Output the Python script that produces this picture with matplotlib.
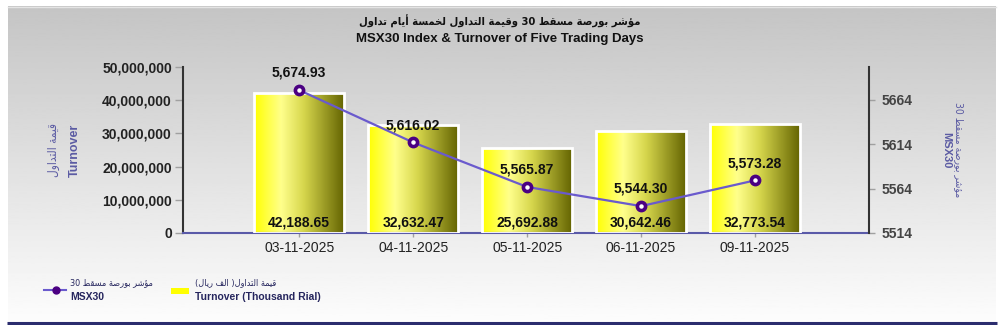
import re

import numpy as np
import matplotlib
matplotlib.use("Agg")
import matplotlib.pyplot as plt
from matplotlib import font_manager
from matplotlib.colors import LinearSegmentedColormap

# data (turnover in thousand Rial, index in points)
dates = ["03-11-2025", "04-11-2025", "05-11-2025", "06-11-2025", "09-11-2025"]
turnover_k = [42188.65, 32632.47, 25692.88, 30642.46, 32773.54]
msx30 = [5674.93, 5616.02, 5565.87, 5544.30, 5573.28]
left_ticks = [0, 10_000_000, 20_000_000, 30_000_000, 40_000_000, 50_000_000]
right_ticks = [5514, 5564, 5614, 5664]

title_ar = "مؤشر بورصة مسقط 30 وقيمة التداول لخمسة أيام تداول"
title_en = "MSX30 Index & Turnover of Five Trading Days"
left_label_ar = "قيمة التداول"
left_label_en = "Turnover"
right_label_ar = "مؤشر بورصة مسقط 30"
right_label_en = "MSX30"
legend_line_ar = "مؤشر بورصة مسقط 30"
legend_line_en = "MSX30"
legend_bar_ar = "قيمة التداول( الف ريال)"
legend_bar_en = "Turnover (Thousand Rial)"

# --- minimal Arabic shaping (matplotlib does no joining / RTL) ---
FORMS = {
    "ا": (0xFE8D, 2), "أ": (0xFE83, 2), "ؤ": (0xFE85, 2), "ب": (0xFE8F, 4),
    "ة": (0xFE93, 2), "ت": (0xFE95, 4), "خ": (0xFEA5, 4), "د": (0xFEA9, 2),
    "ر": (0xFEAD, 2), "س": (0xFEB1, 4), "ش": (0xFEB5, 4), "ص": (0xFEB9, 4),
    "ط": (0xFEC1, 4), "ف": (0xFED1, 4), "ق": (0xFED5, 4), "ل": (0xFEDD, 4),
    "م": (0xFEE1, 4), "و": (0xFEED, 2), "ي": (0xFEF1, 4),
}


def ar(s: str) -> str:
    out = []
    for i, c in enumerate(s):
        if c not in FORMS:
            out.append(c)
            continue
        base, n = FORMS[c]
        prev = s[i - 1] if i else ""
        nxt = s[i + 1] if i + 1 < len(s) else ""
        jp = prev in FORMS and FORMS[prev][1] == 4
        jn = n == 4 and nxt in FORMS
        k = 3 if (jp and jn) else 1 if jp else 2 if jn else 0
        out.append(chr(base + k))
    vis = "".join(out)[::-1]
    vis = re.sub(r"[0-9]+", lambda m: m.group()[::-1], vis)
    return vis.translate(str.maketrans("()", ")("))


names = {f.name for f in font_manager.fontManager.ttflist}
NARROW = "Liberation Sans Narrow" if "Liberation Sans Narrow" in names else "Liberation Sans"
plt.rcParams["font.family"] = ["Liberation Sans", "DejaVu Sans"]
AR_FONT = dict(family=["DejaVu Sans"], fontstretch="condensed")

fig = plt.figure(figsize=(10, 3.25), dpi=100)

# background panel in pixel coordinates
bg = fig.add_axes([0, 0, 1, 1])
bg.set_xlim(0, 1000)
bg.set_ylim(325, 0)
bg.axis("off")
grad = np.linspace(0.77, 0.99, 256).reshape(-1, 1)
bg.imshow(grad, cmap="gray", vmin=0, vmax=1, extent=(8, 996, 322, 6), aspect="auto", zorder=0)
bg.plot([8, 996], [6.5, 6.5], color="#e4e4e4", lw=1)
bg.plot([7, 997], [322.8, 322.8], color="#2b2d6e", lw=2.2, solid_capstyle="butt")


def px(x, y):
    return x / 1000, 1 - y / 325


fig.text(*px(500, 21), ar(title_ar), ha="center", va="center", fontsize=8,
         fontweight="bold", color="#111111", **AR_FONT)
fig.text(*px(500, 39), title_en, ha="center", va="center", fontsize=9.5,
         fontweight="bold", family=[NARROW, "DejaVu Sans"], color="#111111")

axis_lab = "#5b5ba3"
fig.text(*px(54, 150), ar(left_label_ar), rotation=90, ha="center", va="center",
         fontsize=8.5, color=axis_lab, **AR_FONT)
fig.text(*px(75, 150), left_label_en, rotation=90, ha="center", va="center",
         fontsize=9, fontweight="bold", color=axis_lab)
fig.text(*px(959, 150), ar(right_label_ar), rotation=270, ha="center", va="center",
         fontsize=7.5, color=axis_lab, **AR_FONT)
fig.text(*px(946, 150), right_label_en, rotation=270, ha="center", va="center",
         fontsize=8, fontweight="bold", color=axis_lab)

# main axes
ax = fig.add_axes([0.183, (325 - 233) / 325, 0.686, (233 - 67) / 325])
ax.patch.set_visible(False)
x = np.arange(len(dates))
heights = np.array(turnover_k) * 1000
bars = ax.bar(x, heights, width=0.79, facecolor="none", edgecolor="white",
              linewidth=2, zorder=3)
bar_cmap = LinearSegmentedColormap.from_list(
    "bar", [(0, "#ffff00"), (0.3, "#ffff8c"), (0.55, "#d6d64c"), (1, "#626200")])
hgrad = np.linspace(0, 1, 256).reshape(1, -1)
for b in bars:
    im = ax.imshow(hgrad, cmap=bar_cmap, aspect="auto", zorder=2,
                   extent=(b.get_x(), b.get_x() + b.get_width(), 0, b.get_height()))
    im.set_clip_path(b)
for xi, v in zip(x, turnover_k):
    ax.annotate(f"{v:,.2f}", (xi, 0), xytext=(0, 2.5), textcoords="offset points",
                ha="center", va="bottom", fontsize=10, fontweight="bold",
                color="#111111", zorder=5)

ax.set_xlim(-1.02, 5.0)
ax.set_ylim(0, 50_000_000)
ax.set_yticks(left_ticks)
ax.set_yticklabels([f"{t:,.0f}" for t in left_ticks], fontsize=10,
                   fontweight="bold", color="#222222")
ax.set_xticks(x)
ax.set_xticklabels(dates, fontsize=10, color="#222222")
ax.tick_params(axis="y", length=6, width=1, color="#a0a0a0", pad=2)
ax.tick_params(axis="x", length=3, width=1, color="#a0a0a0", pad=3)
for s in ("top", "right"):
    ax.spines[s].set_visible(False)
ax.spines["left"].set_color("#333333")
ax.spines["left"].set_linewidth(1.5)
ax.spines["bottom"].set_color("#5a5aa8")
ax.spines["bottom"].set_linewidth(1.5)

# index line on secondary axis
ax2 = ax.twinx()
ax2.set_ylim(5514, 5701)
ax2.plot(x, msx30, color="#6a5acd", lw=1.6, zorder=3)
ax2.plot(x, msx30, "o", ms=7.5, mfc="#4b0082", mec="#4b0082", zorder=4)
ax2.plot(x, msx30, "o", ms=2.2, mfc="white", mec="white", zorder=5)
for xi, v in zip(x, msx30):
    ax2.annotate(f"{v:,.2f}", (xi, v), xytext=(0, 12.5), textcoords="offset points",
                 ha="center", va="center", fontsize=10, fontweight="bold",
                 color="#111111", zorder=6)
ax2.set_yticks(right_ticks)
ax2.set_yticklabels([str(t) for t in right_ticks], fontsize=10,
                    fontweight="bold", color="#444444")
ax2.tick_params(axis="y", length=4, width=1, color="#a0a0a0", pad=5)
for s in ("top", "left", "bottom"):
    ax2.spines[s].set_visible(False)
ax2.spines["right"].set_color("#333333")
ax2.spines["right"].set_linewidth(1.5)

# legend drawn in pixel coordinates
leg_col = "#26265e"
bg.plot([44, 66], [290, 290], color="#6a5acd", lw=1.5)
bg.plot([56], [290], "o", ms=5, color="#4b0082")
fig.text(*px(70, 283), ar(legend_line_ar), ha="left", va="center", fontsize=6.5,
         color=leg_col, **AR_FONT)
fig.text(*px(70, 297), legend_line_en, ha="left", va="center", fontsize=7.5,
         fontweight="bold", color=leg_col)
bg.add_patch(plt.Rectangle((171, 288), 18, 5.5, facecolor="#ffff00", edgecolor="none"))
fig.text(*px(195, 283), ar(legend_bar_ar), ha="left", va="center", fontsize=6.5,
         color=leg_col, **AR_FONT)
fig.text(*px(195, 297), legend_bar_en, ha="left", va="center", fontsize=7.5,
         fontweight="bold", color=leg_col)

fig.savefig("out.png", dpi=100)
